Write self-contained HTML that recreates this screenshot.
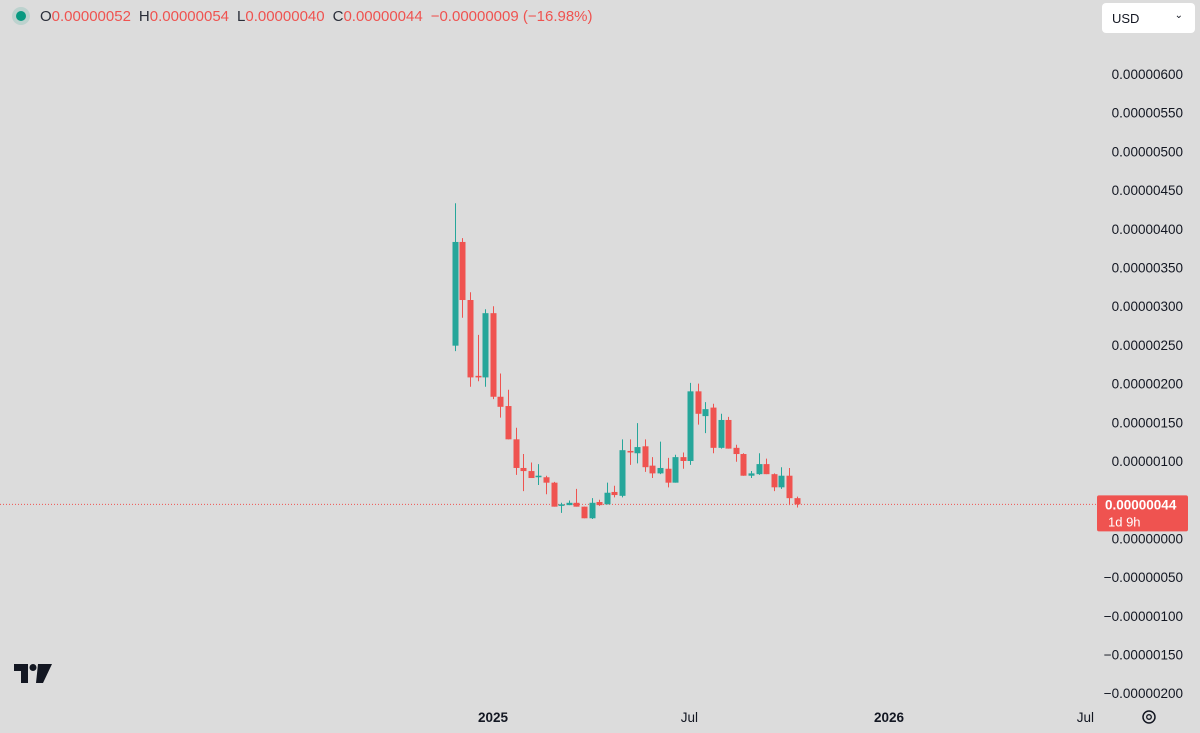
<!DOCTYPE html>
<html><head><meta charset="utf-8">
<style>
html,body{margin:0;padding:0;background:#dcdcdc;}
body{width:1200px;height:733px;overflow:hidden;position:relative;font-family:"Liberation Sans",sans-serif;}
.legend{position:absolute;left:14px;top:8px;font-size:15px;color:#2a2e39;white-space:nowrap;}
.legend .v{color:#ef5350;margin-right:8px;}
.dot{display:inline-block;width:10px;height:10px;border-radius:50%;background:#089981;box-shadow:0 0 0 4px rgba(8,153,129,0.15);margin-right:14px;vertical-align:0px;margin-left:2px}
.usd{position:absolute;left:1102px;top:3px;width:93px;height:30px;background:#fff;border-radius:4px;font-size:13px;color:#131722;box-sizing:border-box;padding:8px 0 0 10px;}
.usd span{position:absolute;right:12px;top:7px;font-size:10px;}
svg{position:absolute;left:0;top:0;}
</style></head><body>
<div class="legend"><span class="dot"></span>O<span class="v">0.00000052</span>H<span class="v">0.00000054</span>L<span class="v">0.00000040</span>C<span class="v">0.00000044</span><span class="v">−0.00000009 (−16.98%)</span></div>
<div class="usd">USD<span>⌄</span></div>
<svg id="chart" width="1200" height="733"></svg>
<script>
// values in units of 1e-8
const opens  = [249,383,308,210,208,291,183,171,128,91,87,79,79,72,42,43,46,41,26,47,44,60,55,113,110,119,94,84,90,72,105,100,190,158,169,117,153,117,109,81,83,96,83,66,81,52];
const highs  = [433,388,318,263,296,300,213,192,143,109,98,96,81,73,46,49,64,41,52,50,72,68,128,128,149,128,105,125,104,108,111,201,200,176,174,161,157,121,110,87,110,103,84,92,91,54];
const lows   = [242,285,196,203,196,180,156,128,82,61,78,69,57,41,33,43,41,26,25,42,44,53,53,95,97,86,78,83,66,72,90,95,147,136,110,116,116,99,81,78,82,83,61,64,43,40];
const closes = [383,308,208,208,291,183,170,128,91,87,78,81,72,41,44,46,41,26,46,43,59,56,114,111,118,92,84,91,72,105,100,190,161,167,117,153,116,109,81,84,96,83,66,81,52,44];
const firstWeek = "2024-11-25";
const yTicks = [600,550,500,450,400,350,300,250,200,150,100,0,-50,-100,-150,-200];
const xTickLabels = ["2025","Jul","2026","Jul"];
const xTickDates = ["2025-01-01","2025-07-01","2026-01-01","2026-07-01"];
const lastPrice = 44;

const NS="http://www.w3.org/2000/svg";
const svg=document.getElementById('chart');
const y=v=>538.4-v*0.774;
const day0=Date.parse("2025-01-01");
const xd=ms=>493+(ms-day0)/86400000*1.085;
const xi=i=>xd(Date.parse(firstWeek)+i*7*86400000)+2;
function el(t,a){const e=document.createElementNS(NS,t);for(const k in a)e.setAttribute(k,a[k]);svg.appendChild(e);return e;}
function fmt(v){const s=(Math.abs(v)/1e8).toFixed(8);return (v<0?'−':'')+s;}

yTicks.forEach(v=>{
  const t=el('text',{x:1183,y:y(v)+5,'text-anchor':'end','font-size':'13.5','fill':'#131722'});
  
  
  t.textContent=fmt(v);
});
xTickLabels.forEach((lab,i)=>{
  const t=el('text',{x:xd(Date.parse(xTickDates[i])),y:722,'text-anchor':'middle','font-size':'13.5','fill':'#131722','font-weight':lab.length===4?'bold':'normal'});
  
  
  t.textContent=lab;
});
const pl=el('line',{x1:0,x2:1097,y1:y(lastPrice),y2:y(lastPrice),stroke:'#ef5350','stroke-width':1,'stroke-dasharray':'1 2'});



opens.forEach((o,i)=>{
  const c=closes[i],up=c>=o,col=up?'#26a69a':'#ef5350',cx=Math.round(xi(i))+0.5;
  const w=el('line',{x1:cx,x2:cx,y1:y(highs[i]),y2:y(lows[i]),stroke:col,'stroke-width':1});
  
  
  const top=y(Math.max(o,c)),h=Math.max(1,Math.abs(y(o)-y(c)));
  const b=el('rect',{x:cx-3,y:top,width:6,height:h,fill:col});
  
  
});

const pb=el('rect',{x:1097,y:y(lastPrice)-9,width:91,height:36,rx:2,fill:'#ef5350'});


const pt=el('text',{x:1105,y:y(lastPrice)+5,'font-size':'13.5','fill':'#fff','font-weight':'bold'});


pt.textContent=fmt(lastPrice);
const ct=el('text',{x:1108,y:y(lastPrice)+22,'font-size':'13','fill':'#fff'});


ct.textContent='1d 9h';

const g=el('g',{fill:'#131722'});


[['path',{d:'M14 664h14v19h-7v-12h-7z'}],['circle',{cx:33,cy:667.5,r:3.5}],['path',{d:'M38 664h14l-9 19h-7z'}]].forEach(([t,a])=>{const e=document.createElementNS(NS,t);for(const k in a)e.setAttribute(k,a[k]);g.appendChild(e);});
const gear=el('circle',{cx:1149,cy:717,r:6,fill:'none',stroke:'#131722','stroke-width':1.5});


const gear2=el('circle',{cx:1149,cy:717,r:2.3,fill:'none',stroke:'#131722','stroke-width':1.3});


</script>
</body></html>
